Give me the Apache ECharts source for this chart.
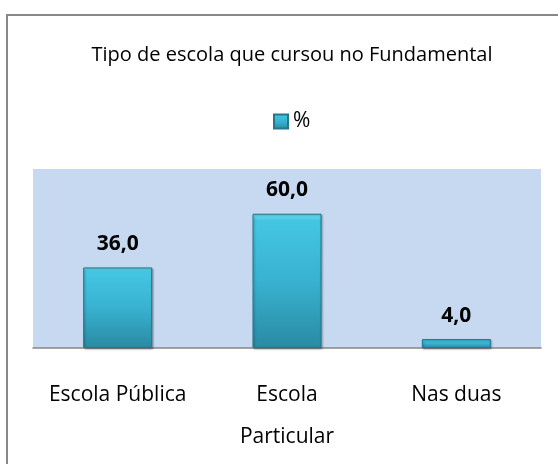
<!DOCTYPE html>
<html>
<head>
<meta charset="utf-8">
<script src="https://cdn.jsdelivr.net/npm/echarts@6/dist/echarts.min.js"></script>
<style>
    html, body { margin: 0; padding: 0; background: #fff; }
    #main { width: 558px; height: 464px; }
</style>
</head>
<body>
<div id="main"></div>
<script>
// dados do gráfico
var categorias = ['Escola Pública', 'Escola\nParticular', 'Nas duas'];
var valores = [36.0, 60.0, 4.0];
var serieNome = '%';
var titulo = 'Tipo de escola que cursou no Fundamental';

var fonte = '"Open Sans", sans-serif';
var myChart = echarts.init(document.getElementById('main'));

var corBarra = new echarts.graphic.LinearGradient(0, 0, 0, 1, [
    {offset: 0, color: '#6fe3f4'},
    {offset: 0.05, color: '#44c6e3'},
    {offset: 0.5, color: '#38b2d0'},
    {offset: 1, color: '#2a8aa3'}
]);

var option = {
    backgroundColor: '#fff',
    animation: false,
    graphic: [{
        type: 'rect',
        shape: {x: 7, y: 15, width: 600, height: 500},
        style: {fill: 'none', stroke: '#888', lineWidth: 2},
        silent: true
    }],
    title: {
        text: titulo,
        left: 287,
        textAlign: 'center',
        top: 40,
        textStyle: {fontFamily: fonte, fontSize: 20, fontWeight: 'normal', color: '#000'}
    },
    legend: {
        data: [{name: serieNome, icon: 'rect'}],
        top: 106,
        left: 268,
        itemWidth: 14,
        itemHeight: 14,
        itemGap: 6,
        textStyle: {fontFamily: fonte, fontSize: 21, color: '#000'}
    },
    grid: {
        left: 33,
        right: 17,
        top: 169,
        bottom: 116,
        show: true,
        backgroundColor: '#c6d9f0',
        borderWidth: 0
    },
    xAxis: {
        type: 'category',
        data: categorias,
        axisLine: {lineStyle: {color: '#868686', width: 1.5}},
        axisTick: {show: false},
        axisLabel: {
            interval: 0,
            margin: 26,
            fontFamily: fonte,
            fontSize: 21,
            lineHeight: 42,
            color: '#000'
        }
    },
    yAxis: {
        type: 'value',
        min: 0,
        max: 80,
        show: false,
        splitLine: {show: false}
    },
    series: [{
        name: serieNome,
        type: 'bar',
        data: valores,
        barWidth: 69,
        itemStyle: {
            color: corBarra,
            borderColor: '#23788f',
            borderWidth: 1,
            shadowColor: 'rgba(0,0,0,0.3)',
            shadowBlur: 2,
            shadowOffsetX: 1,
            shadowOffsetY: 1
        },
        label: {
            show: true,
            position: 'top',
            distance: 13,
            fontFamily: fonte,
            fontSize: 21,
            fontWeight: 'bold',
            color: '#000',
            formatter: function (p) {
                return p.value.toFixed(1).replace('.', ',');
            }
        }
    }]
};

myChart.setOption(option);
</script>
</body>
</html>
